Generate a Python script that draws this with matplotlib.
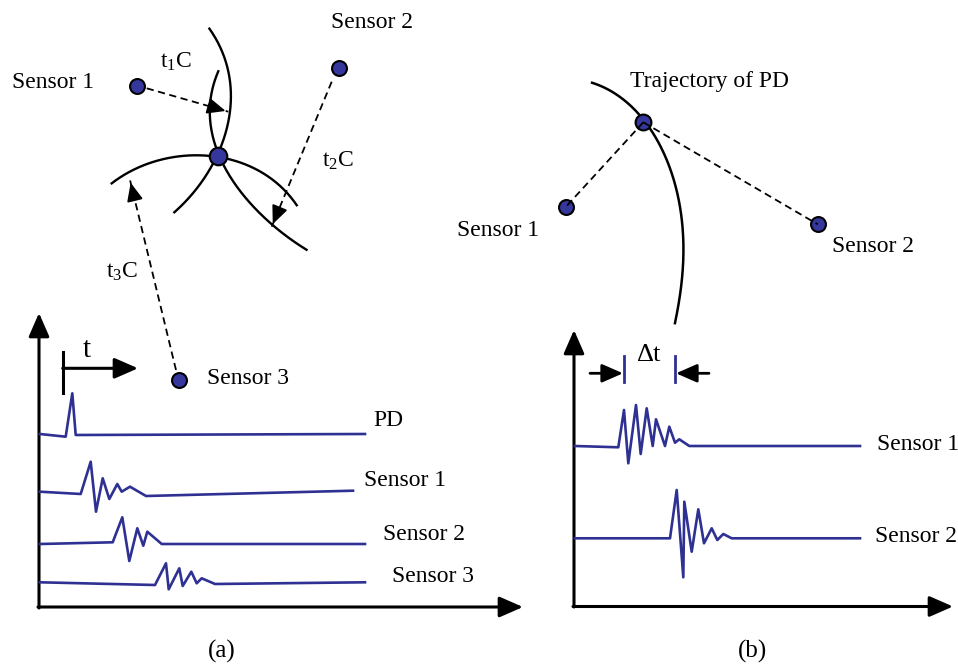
import numpy as np
import matplotlib.pyplot as plt

plt.rcParams['font.family'] = ['Liberation Serif', 'DejaVu Serif']
plt.rcParams['mathtext.fontset'] = 'custom'
plt.rcParams['mathtext.rm'] = 'Liberation Serif'

# ---- data (diagram coordinates, pixels from top-left) ----
# panel (a): sensors and PD source
sens_a_x = [136.7, 339.0, 179.3]
sens_a_y = [85.7, 68.3, 380.0]
pd_a = (218.3, 155.7)

# wavefront arcs through the PD point
arc1 = [(210, 29), (222, 53), (230, 87), (229.5, 122), (218.3, 156), (198, 183), (175, 212.7)]
arc2 = [(218.3, 71.7), (210.5, 100), (211, 128), (218.3, 156), (233.3, 180), (253.3, 206.7),
        (276.7, 228.3), (306.7, 250)]
arc3 = [(111.7, 183.3), (140, 166.7), (176.7, 157.3), (218.3, 156), (250, 166.7),
        (276.7, 183.3), (296.7, 205)]

# waveforms panel (a)
pd_x = [40, 65.7, 72.3, 75.7, 365]
pd_y = [434, 436.7, 393.3, 435, 434]
s1_x = [40, 80.7, 90.7, 96, 102.7, 109.3, 117.3, 121.7, 130, 146, 353]
s1_y = [491.7, 494, 461.7, 511.7, 478.3, 499, 484, 491.7, 486.7, 496, 490.7]
s2_x = [40, 112.7, 122.3, 129.3, 137.3, 143.3, 147.3, 161.7, 365]
s2_y = [544, 542.3, 517.3, 561, 528.3, 545.7, 531.7, 544, 544]
s3_x = [40, 155, 166, 168.7, 179.3, 182.7, 191.3, 196.7, 201.7, 215, 365]
s3_y = [582.3, 585, 563.3, 589.3, 568.3, 586, 571.7, 583.3, 578.3, 584, 582.3]

# panel (b)
sens_b_x = [566.0, 817.7]
sens_b_y = [206.7, 224.3]
pd_b = (643.3, 122.3)
traj = [(592, 83), (613, 92), (633, 107), (648, 127), (662, 150), (673, 177), (680, 205),
        (683, 233), (683, 262), (680, 295), (675, 323)]

b1_x = [575, 618.3, 624, 628.3, 636, 640.7, 646.7, 652.7, 656, 665, 669.3, 675, 679.3, 689.3, 860]
b1_y = [446, 447.3, 410, 463.3, 405, 454, 408.3, 446, 419.3, 446, 426.7, 442.7, 439.3, 446, 446]
b2_x = [575, 670, 676.7, 683.3, 684.3, 691.7, 698.3, 704, 711.7, 717.3, 723.3, 731.7, 860]
b2_y = [538.3, 538.3, 490, 577.3, 501.7, 551.7, 509.3, 543.3, 528.3, 540, 534, 538.3, 538.3]

blue = '#2e3192'
dotc = '#35379c'


def smooth(pts, deg=3, n=200):
    # least-squares polynomial curve through the traced points
    p = np.array(pts, dtype=float)
    s = np.concatenate([[0], np.cumsum(np.hypot(*np.diff(p, axis=0).T))])
    s = s / s[-1]
    ss = np.linspace(0, 1, n)
    x = np.polyval(np.polyfit(s, p[:, 0], deg), ss)
    y = np.polyval(np.polyfit(s, p[:, 1], deg), ss)
    return np.column_stack([x, y])


fig = plt.figure(figsize=(9.58, 6.66), dpi=100)
ax = fig.add_axes([0, 0, 1, 1])
ax.set_xlim(0, 958)
ax.set_ylim(666, 0)
ax.axis('off')

dash = (0, (4, 2.5))


def dashed_arrow(x0, y0, x1, y1):
    ax.plot([x0, x1], [y0, y1], color='black', lw=1.3, linestyle=dash, zorder=2)
    d = np.array([x1 - x0, y1 - y0]); d = d / np.hypot(*d)
    ax.annotate('', xy=(x1, y1), xytext=(x1 - d[0] * 12, y1 - d[1] * 12),
                arrowprops=dict(arrowstyle='-|>,head_length=0.8,head_width=0.35',
                                color='black', lw=1.3, mutation_scale=14))


def axis_arrow(x0, y0, x1, y1):
    ax.annotate('', xy=(x1, y1), xytext=(x0, y0),
                arrowprops=dict(arrowstyle='-|>,head_length=0.8,head_width=0.35',
                                color='black', lw=2.2, mutation_scale=18,
                                shrinkA=0, shrinkB=0))


# ---- panel (a) top ----
for arc in (arc1, arc2, arc3):
    c = smooth(arc)
    ax.plot(c[:, 0], c[:, 1], color='black', lw=1.7, zorder=2)

dashed_arrow(146.7, 88.3, 228.3, 111.7)
dashed_arrow(331.7, 81.7, 271.7, 226.7)
dashed_arrow(176, 370, 130, 180)

ax.scatter(sens_a_x, sens_a_y, s=115, c=dotc, edgecolors='black', linewidths=1.5, zorder=4)
ax.scatter([pd_a[0]], [pd_a[1]], s=160, c=dotc, edgecolors='black', linewidths=1.5, zorder=4)

ax.text(12, 82, 'Sensor 1', fontsize=17, va='center', ha='left')
ax.text(331, 22, 'Sensor 2', fontsize=17, va='center', ha='left')
ax.text(207, 378, 'Sensor 3', fontsize=17, va='center', ha='left')
ax.text(176, 62, r'$\mathrm{t_1C}$', fontsize=17, va='center', ha='center')
ax.text(338, 161, r'$\mathrm{t_2C}$', fontsize=17, va='center', ha='center')
ax.text(122, 272, r'$\mathrm{t_3C}$', fontsize=17, va='center', ha='center')

# ---- panel (a) waveforms ----
axis_arrow(39, 608, 39, 313)
axis_arrow(38, 607, 523, 607)
ax.plot([62.7, 62.7], [351.7, 393.3], color='black', lw=2.2)
ax.annotate('', xy=(138, 368.3), xytext=(62.7, 368.3),
            arrowprops=dict(arrowstyle='-|>,head_length=0.8,head_width=0.35',
                            color='black', lw=2.2, mutation_scale=18, shrinkA=0, shrinkB=0))
ax.text(87, 350, 't', fontsize=21, va='center', ha='center')

for wx, wy in ((pd_x, pd_y), (s1_x, s1_y), (s2_x, s2_y), (s3_x, s3_y)):
    ax.plot(wx, wy, color=blue, lw=1.9, zorder=3)
ax.text(373, 421, 'PD', fontsize=17, va='center', ha='left')
ax.text(364, 481, 'Sensor 1', fontsize=17, va='center', ha='left')
ax.text(383, 534, 'Sensor 2', fontsize=17, va='center', ha='left')
ax.text(392, 577, 'Sensor 3', fontsize=17, va='center', ha='left')

# ---- panel (b) top ----
c = smooth(traj, deg=4)
ax.plot(c[:, 0], c[:, 1], color='black', lw=1.8, zorder=2)
for sx, sy in zip(sens_b_x, sens_b_y):
    ax.plot([pd_b[0], sx], [pd_b[1], sy], color='black', lw=1.3, linestyle=dash, zorder=5)
ax.scatter(sens_b_x, sens_b_y, s=115, c=dotc, edgecolors='black', linewidths=1.5, zorder=4)
ax.scatter([pd_b[0]], [pd_b[1]], s=130, c=dotc, edgecolors='black', linewidths=1.5, zorder=4)
ax.text(630, 81, 'Trajectory of PD', fontsize=17, va='center', ha='left')
ax.text(457, 231, 'Sensor 1', fontsize=17, va='center', ha='left')
ax.text(832, 247, 'Sensor 2', fontsize=17, va='center', ha='left')

# ---- panel (b) waveforms ----
axis_arrow(574, 607, 574, 330)
axis_arrow(573, 606.5, 953, 606.5)
for wx, wy in ((b1_x, b1_y), (b2_x, b2_y)):
    ax.plot(wx, wy, color=blue, lw=1.9, zorder=3)
ax.plot([624, 624], [356, 382], color=blue, lw=2)
ax.plot([675, 675], [356, 382], color=blue, lw=2)
ax.annotate('', xy=(623, 373.3), xytext=(590, 373.3),
            arrowprops=dict(arrowstyle='-|>,head_length=0.8,head_width=0.35',
                            color='black', lw=2, mutation_scale=16, shrinkA=0, shrinkB=0))
ax.annotate('', xy=(676, 373.3), xytext=(709, 373.3),
            arrowprops=dict(arrowstyle='-|>,head_length=0.8,head_width=0.35',
                            color='black', lw=2, mutation_scale=16, shrinkA=0, shrinkB=0))
ax.text(649, 355, r'$\Delta$t', fontsize=19, va='center', ha='center')
ax.text(877, 445, 'Sensor 1', fontsize=17, va='center', ha='left')
ax.text(875, 536, 'Sensor 2', fontsize=17, va='center', ha='left')

ax.text(222, 651, '(a)', fontsize=18, va='center', ha='center')
ax.text(753, 651, '(b)', fontsize=18, va='center', ha='center')

fig.savefig('out.png', dpi=100)
